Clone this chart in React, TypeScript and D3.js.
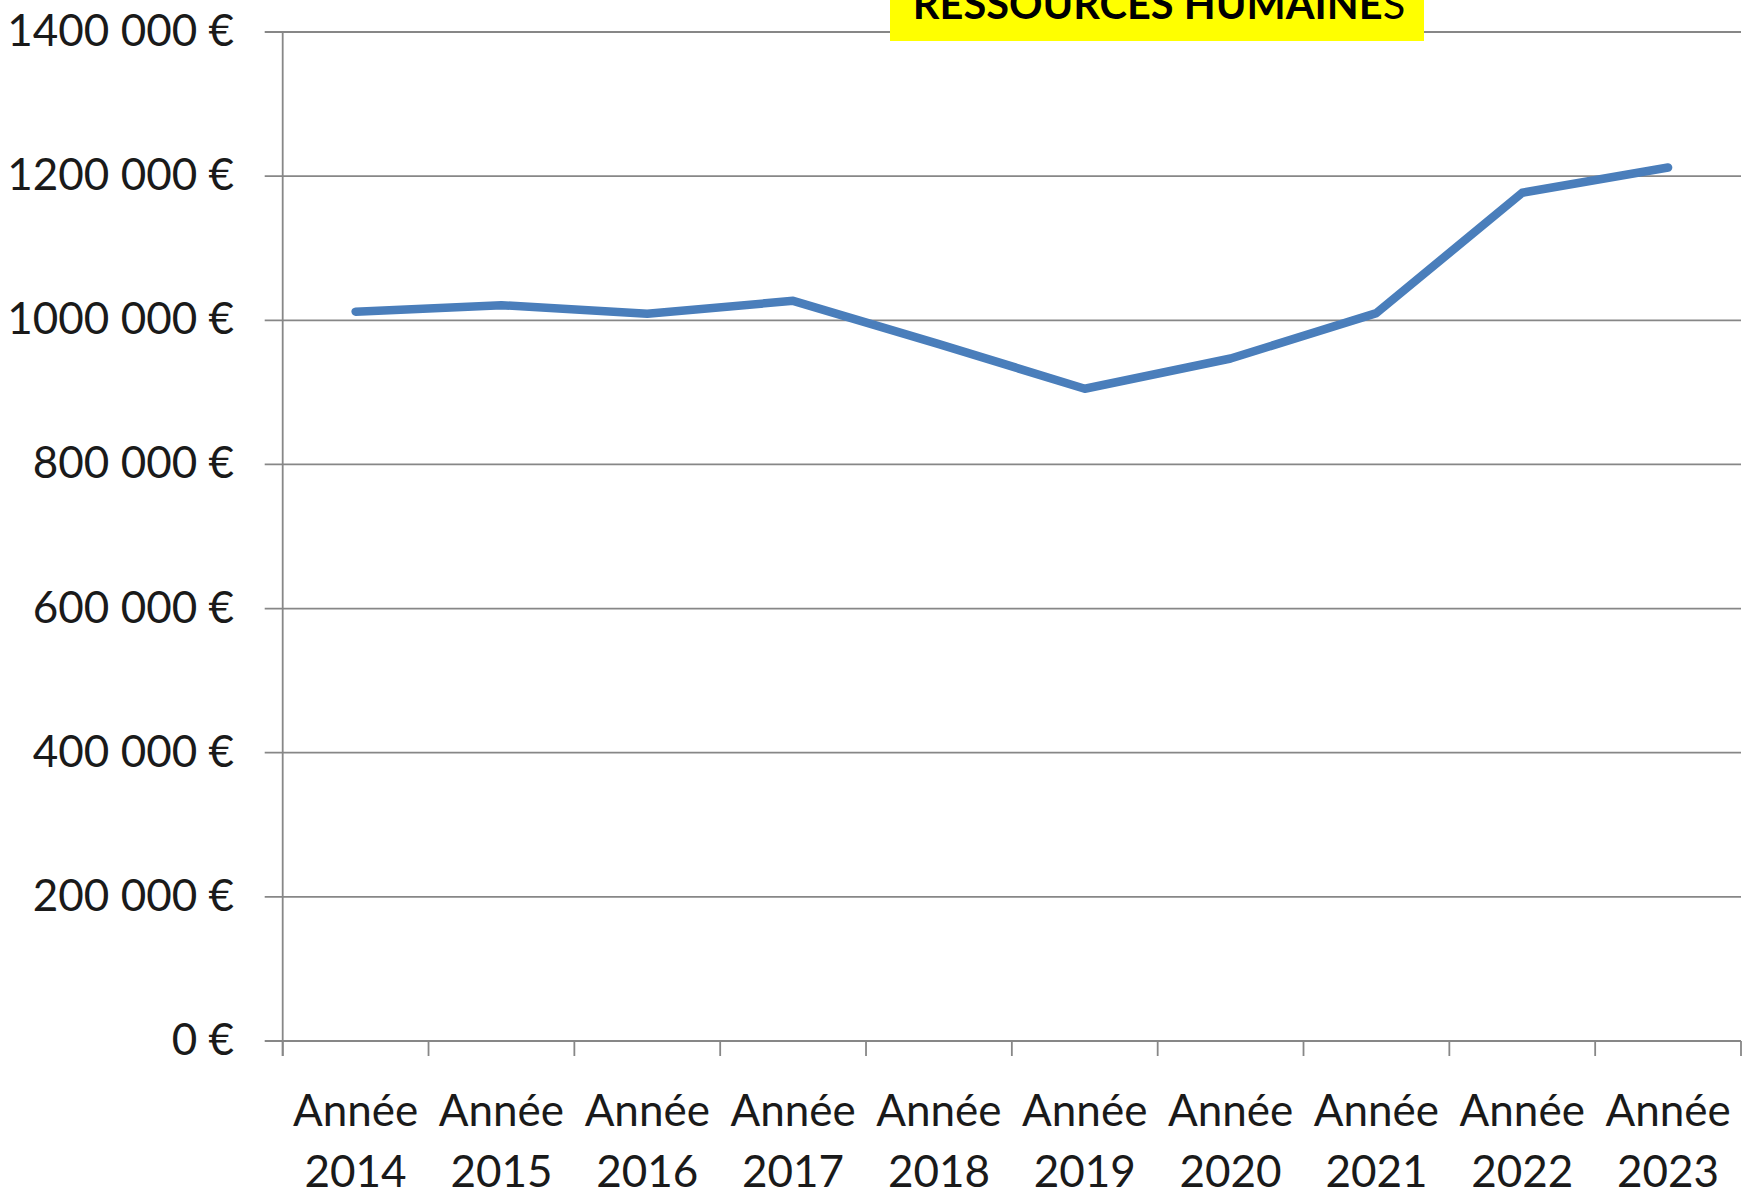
import * as d3 from "d3";

const years = ["2014", "2015", "2016", "2017", "2018", "2019", "2020", "2021", "2022", "2023"];
const values = [1012000, 1021000, 1009000, 1027000, 967000, 905000, 947000, 1010000, 1177000, 1212000];
const yTicks = [0, 200000, 400000, 600000, 800000, 1000000, 1200000, 1400000];
const yTickLabels = ["0 €", "200 000 €", "400 000 €", "600 000 €", "800 000 €", "1000 000 €", "1200 000 €", "1400 000 €"];
const titleMain = "RESSOURCES HUMAINE";
const titleTail = "S";

const W = 1756;
const H = 1192;
const left = 282.7;
const right = 1741;
const top = 32;
const bottom = 1041;

const gridColor = "#878787";
const lineColor = "#4A7EBB";
const font = "Lato, 'Open Sans', sans-serif";

export default function App() {
  const x = d3.scaleBand<string>().domain(years).range([left, right]).padding(0);
  const y = d3.scaleLinear().domain([0, 1400000]).range([bottom, top]);

  const line = d3
    .line<number>()
    .x((_, i) => (x(years[i]) as number) + x.bandwidth() / 2)
    .y((d) => y(d));

  const xTickPos = [...years.map((c) => x(c) as number), right];

  return (
    <>
      <style>{`body{margin:0}`}</style>
      <svg width={W} height={H} style={{ display: "block", background: "#fff" }}>
        {/* gridlines + y ticks */}
        {yTicks.map((t, i) => (
          <g key={t}>
            <line x1={left - 18} x2={right} y1={y(t)} y2={y(t)} stroke={gridColor} strokeWidth={1.8} />
            <text
              x={234}
              y={y(t) + 14}
              textAnchor="end"
              fontFamily={font}
              fontSize={44}
              fill="#1a1a1a"
            >
              {yTickLabels[i]}
            </text>
          </g>
        ))}

        {/* y axis */}
        <line x1={left} x2={left} y1={top} y2={bottom + 15} stroke={gridColor} strokeWidth={1.8} />

        {/* x ticks */}
        {xTickPos.map((p, i) => (
          <line key={i} x1={p} x2={p} y1={bottom} y2={bottom + 15} stroke={gridColor} strokeWidth={1.8} />
        ))}

        {/* x labels */}
        {years.map((c) => {
          const cx = (x(c) as number) + x.bandwidth() / 2;
          return (
            <text key={c} x={cx} textAnchor="middle" fontFamily={font} fontSize={44} fill="#1a1a1a">
              <tspan x={cx} y={1126}>Année</tspan>
              <tspan x={cx} y={1187}>{c}</tspan>
            </text>
          );
        })}

        {/* series */}
        <path
          d={line(values) ?? ""}
          fill="none"
          stroke={lineColor}
          strokeWidth={8.5}
          strokeLinecap="round"
          strokeLinejoin="round"
        />

        {/* title */}
        <rect x={890} y={0} width={534} height={41} fill="#FFFF00" />
        <text x={1159} y={19} textAnchor="middle" fontFamily={font} fontSize={41.5} fill="#000">
          <tspan fontWeight="bold">{titleMain}</tspan>
          <tspan fontWeight="normal">{titleTail}</tspan>
        </text>
      </svg>
    </>
  );
}
